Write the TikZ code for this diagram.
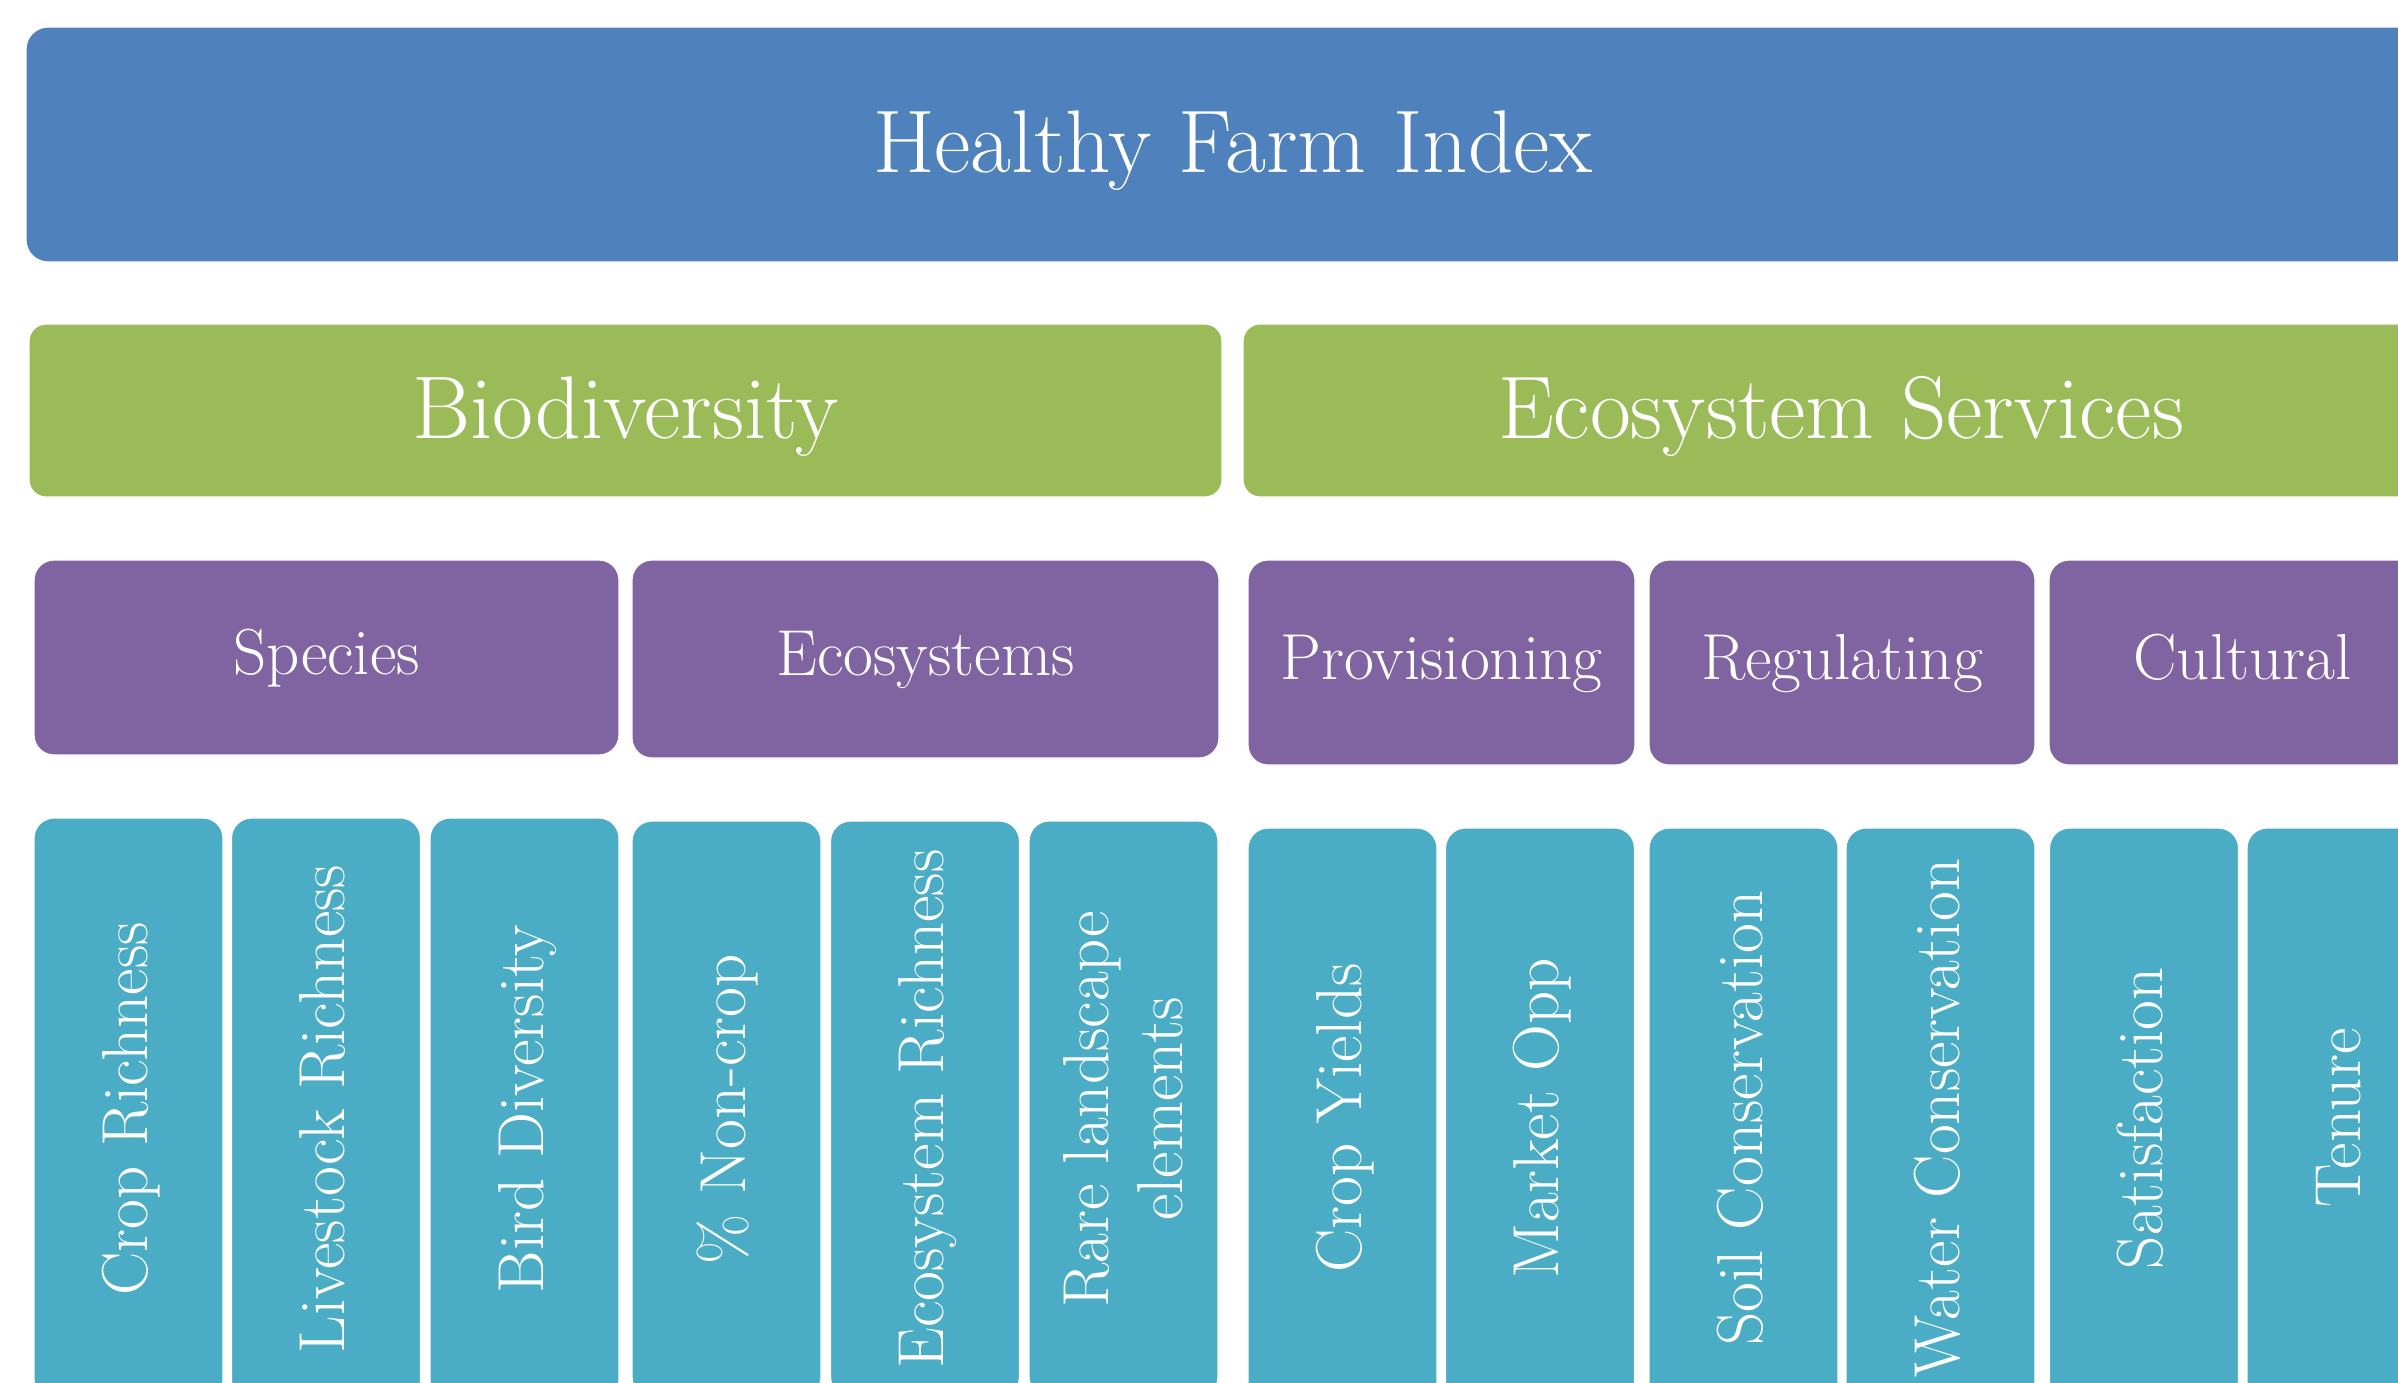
\documentclass[tikz,border=0pt]{standalone}
\usepackage{fontspec}
\definecolor{hfblue}{HTML}{4F81BD}
\definecolor{hfgreen}{HTML}{9BBB59}
\definecolor{hfpurple}{HTML}{8064A2}
\definecolor{hfteal}{HTML}{4BACC6}
\tikzset{
  box/.style={inner sep=0pt, outer sep=0pt, text=white,
    draw=white, line width=0.6pt},
  bigtext/.style={font=\fontsize{44.5}{52}\selectfont,
    text height=33.4pt, text depth=5.8pt},
  index/.style={box, bigtext, fill=hfblue, rounded corners=11pt,
    minimum width=1207pt, minimum height=117.5pt},
  pillar/.style={box, bigtext, fill=hfgreen, rounded corners=8.5pt,
    minimum height=86.5pt},
  facet/.style={box, fill=hfpurple, rounded corners=10pt,
    font=\fontsize{32.5}{37}\selectfont,
    text height=23.4pt, text depth=6.5pt},
  indicator/.style={box, fill=hfteal, rounded corners=10pt, rotate=90,
    minimum height=94.5pt, font=\fontsize{32.5}{37}\selectfont},
  oneline/.style={text height=24.4pt, text depth=5.5pt},
  twoline/.style={align=center},
}
\begin{document}
\begin{tikzpicture}[x=0.5pt,y=-0.5pt]
\useasboundingbox (0,0) rectangle (2398,1382);
\clip (0,0) rectangle (2398,1382);
\fill[white] (0,0) rectangle (2398,1382);

% top level
\node[index] (hfi) at (1233,144.5) {Healthy Farm Index};

% pillars
\node[pillar, minimum width=596.5pt] (bio) at (625.5,410.5) {Biodiversity};
\node[pillar, minimum width=598pt] (ess) at (1841,410.5) {Ecosystem Services};

% facets
\node[facet, minimum width=292.5pt, minimum height=97.5pt] (spe) at (326.5,657.5) {Species};
\node[facet, minimum width=293.5pt, minimum height=99pt] (eco) at (925.5,659) {Ecosystems};
\node[facet, minimum width=193.5pt, minimum height=102.5pt] (pro) at (1441.5,662.5) {Provisioning};
\node[facet, minimum width=193pt, minimum height=102.5pt] (reg) at (1842,662.5) {Regulating};
\node[facet, minimum width=193.5pt, minimum height=102.5pt] (cul) at (2242.5,662.5) {Cultural};

% indicators: species
\node[indicator, oneline, minimum width=291pt] (cr) at (128.5,1109) {Crop Richness};
\node[indicator, oneline, minimum width=291pt] (lr) at (326,1109) {Livestock Richness};
\node[indicator, oneline, minimum width=291pt] (bd) at (524.5,1109) {Bird Diversity};
% indicators: ecosystems
\node[indicator, oneline, minimum width=288pt] (nc) at (726.5,1109) {\% Non-crop};
\node[indicator, oneline, minimum width=288pt] (er) at (925,1109) {Ecosystem Richness};
\node[indicator, twoline, minimum width=288pt] (rl) at (1123.5,1109) {Rare landscape\\elements};
% indicators: provisioning
\node[indicator, oneline, minimum width=290pt] (cy) at (1342.5,1118) {Crop Yields};
\node[indicator, oneline, minimum width=290pt] (mo) at (1540,1118) {Market Opp};
% indicators: regulating
\node[indicator, oneline, minimum width=290pt] (sc) at (1743.5,1118) {Soil Conservation};
\node[indicator, oneline, minimum width=290pt] (wc) at (1940.5,1118) {Water Conservation};
% indicators: cultural
\node[indicator, oneline, minimum width=290pt] (sa) at (2144,1118) {Satisfaction};
\node[indicator, oneline, minimum width=290pt] (te) at (2341.5,1118) {Tenure};
\end{tikzpicture}
\end{document}
